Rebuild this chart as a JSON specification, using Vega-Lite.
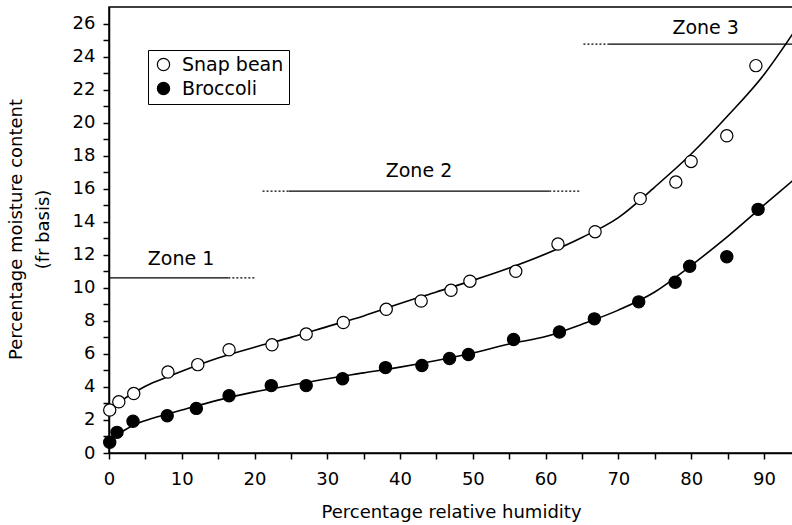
{
  "$schema": "https://vega.github.io/schema/vega-lite/v6.json",
  "width": 684,
  "height": 446,
  "autosize": {"type": "none"},
  "padding": {"left": 109, "top": 7, "right": 0, "bottom": 72},
  "background": "white",
  "config": {
    "view": {"stroke": "black", "strokeWidth": 1.5},
    "font": "DejaVu Sans"
  },
  "datasets": {
    "points": [
      {"series": "Snap bean", "rh": 0.1, "mc": 2.6},
      {"series": "Snap bean", "rh": 1.35, "mc": 3.1},
      {"series": "Snap bean", "rh": 3.4, "mc": 3.6},
      {"series": "Snap bean", "rh": 8.1, "mc": 4.9},
      {"series": "Snap bean", "rh": 12.2, "mc": 5.35},
      {"series": "Snap bean", "rh": 16.5, "mc": 6.25},
      {"series": "Snap bean", "rh": 22.4, "mc": 6.55},
      {"series": "Snap bean", "rh": 27.1, "mc": 7.2},
      {"series": "Snap bean", "rh": 32.2, "mc": 7.9},
      {"series": "Snap bean", "rh": 38.1, "mc": 8.7},
      {"series": "Snap bean", "rh": 42.9, "mc": 9.2},
      {"series": "Snap bean", "rh": 47.0, "mc": 9.85},
      {"series": "Snap bean", "rh": 49.6, "mc": 10.4},
      {"series": "Snap bean", "rh": 55.9, "mc": 11.0},
      {"series": "Snap bean", "rh": 61.7, "mc": 12.65},
      {"series": "Snap bean", "rh": 66.8, "mc": 13.4},
      {"series": "Snap bean", "rh": 73.0, "mc": 15.4},
      {"series": "Snap bean", "rh": 77.9, "mc": 16.4},
      {"series": "Snap bean", "rh": 80.0, "mc": 17.65},
      {"series": "Snap bean", "rh": 84.9, "mc": 19.2},
      {"series": "Snap bean", "rh": 88.9, "mc": 23.45},
      {"series": "Broccoli", "rh": 0.1, "mc": 0.65},
      {"series": "Broccoli", "rh": 1.1, "mc": 1.25},
      {"series": "Broccoli", "rh": 3.3, "mc": 1.92},
      {"series": "Broccoli", "rh": 8.0, "mc": 2.26},
      {"series": "Broccoli", "rh": 12.0, "mc": 2.7},
      {"series": "Broccoli", "rh": 16.5, "mc": 3.47},
      {"series": "Broccoli", "rh": 22.3, "mc": 4.08},
      {"series": "Broccoli", "rh": 27.1, "mc": 4.08},
      {"series": "Broccoli", "rh": 32.1, "mc": 4.5},
      {"series": "Broccoli", "rh": 38.0, "mc": 5.17},
      {"series": "Broccoli", "rh": 43.0, "mc": 5.3},
      {"series": "Broccoli", "rh": 46.8, "mc": 5.72},
      {"series": "Broccoli", "rh": 49.4, "mc": 5.96},
      {"series": "Broccoli", "rh": 55.6, "mc": 6.87},
      {"series": "Broccoli", "rh": 61.9, "mc": 7.33},
      {"series": "Broccoli", "rh": 66.7, "mc": 8.12},
      {"series": "Broccoli", "rh": 72.8, "mc": 9.15},
      {"series": "Broccoli", "rh": 77.8, "mc": 10.34},
      {"series": "Broccoli", "rh": 79.8, "mc": 11.31},
      {"series": "Broccoli", "rh": 84.9, "mc": 11.88},
      {"series": "Broccoli", "rh": 89.2, "mc": 14.75}
    ],
    "curves": [
      {"series": "Snap bean", "rh": 0, "mc": 2.45},
      {"series": "Snap bean", "rh": 1, "mc": 2.9},
      {"series": "Snap bean", "rh": 2, "mc": 3.25},
      {"series": "Snap bean", "rh": 4, "mc": 3.8},
      {"series": "Snap bean", "rh": 6, "mc": 4.25},
      {"series": "Snap bean", "rh": 8, "mc": 4.6},
      {"series": "Snap bean", "rh": 10, "mc": 4.95},
      {"series": "Snap bean", "rh": 15, "mc": 5.75},
      {"series": "Snap bean", "rh": 20, "mc": 6.4},
      {"series": "Snap bean", "rh": 25, "mc": 7.0},
      {"series": "Snap bean", "rh": 30, "mc": 7.65},
      {"series": "Snap bean", "rh": 35, "mc": 8.3},
      {"series": "Snap bean", "rh": 40, "mc": 9.05},
      {"series": "Snap bean", "rh": 45, "mc": 9.75},
      {"series": "Snap bean", "rh": 50, "mc": 10.45},
      {"series": "Snap bean", "rh": 55, "mc": 11.2},
      {"series": "Snap bean", "rh": 60, "mc": 12.05},
      {"series": "Snap bean", "rh": 65, "mc": 13.05},
      {"series": "Snap bean", "rh": 70, "mc": 14.25},
      {"series": "Snap bean", "rh": 75, "mc": 16.1},
      {"series": "Snap bean", "rh": 80, "mc": 18.1},
      {"series": "Snap bean", "rh": 85, "mc": 20.4},
      {"series": "Snap bean", "rh": 90, "mc": 22.9},
      {"series": "Snap bean", "rh": 94, "mc": 25.4},
      {"series": "Broccoli", "rh": 0, "mc": 0.55},
      {"series": "Broccoli", "rh": 1, "mc": 1.05},
      {"series": "Broccoli", "rh": 2, "mc": 1.35},
      {"series": "Broccoli", "rh": 4, "mc": 1.8},
      {"series": "Broccoli", "rh": 6, "mc": 2.1},
      {"series": "Broccoli", "rh": 8, "mc": 2.35},
      {"series": "Broccoli", "rh": 10, "mc": 2.6},
      {"series": "Broccoli", "rh": 15, "mc": 3.2},
      {"series": "Broccoli", "rh": 20, "mc": 3.7},
      {"series": "Broccoli", "rh": 25, "mc": 4.1},
      {"series": "Broccoli", "rh": 30, "mc": 4.5},
      {"series": "Broccoli", "rh": 35, "mc": 4.85},
      {"series": "Broccoli", "rh": 40, "mc": 5.2},
      {"series": "Broccoli", "rh": 45, "mc": 5.6},
      {"series": "Broccoli", "rh": 50, "mc": 6.05},
      {"series": "Broccoli", "rh": 55, "mc": 6.6},
      {"series": "Broccoli", "rh": 60, "mc": 7.05},
      {"series": "Broccoli", "rh": 65, "mc": 7.8},
      {"series": "Broccoli", "rh": 70, "mc": 8.65},
      {"series": "Broccoli", "rh": 75, "mc": 9.75},
      {"series": "Broccoli", "rh": 80, "mc": 11.35},
      {"series": "Broccoli", "rh": 85, "mc": 13.1},
      {"series": "Broccoli", "rh": 90, "mc": 15.0},
      {"series": "Broccoli", "rh": 94, "mc": 16.5}
    ],
    "zones": [
      {"zone": "Zone 1", "part": "solid", "rh": 0, "rh2": 16.4, "mc": 10.6},
      {"zone": "Zone 1", "part": "dotted", "rh": 16.4, "rh2": 20.1, "mc": 10.6},
      {"zone": "Zone 2", "part": "dotted", "rh": 21.1, "rh2": 24.7, "mc": 15.85},
      {"zone": "Zone 2", "part": "solid", "rh": 24.7, "rh2": 60.5, "mc": 15.85},
      {"zone": "Zone 2", "part": "dotted", "rh": 60.5, "rh2": 64.8, "mc": 15.85},
      {"zone": "Zone 3", "part": "dotted", "rh": 65.2, "rh2": 68.7, "mc": 24.75},
      {"zone": "Zone 3", "part": "solid", "rh": 68.7, "rh2": 94, "mc": 24.75}
    ],
    "labels": [
      {"label": "Zone 1", "rh": 9.9, "mc": 11.41},
      {"label": "Zone 2", "rh": 42.6, "mc": 16.7},
      {"label": "Zone 3", "rh": 82.0, "mc": 25.35}
    ]
  },
  "encoding": {
    "x": {
      "field": "rh", "type": "quantitative",
      "scale": {"domain": [0, 94], "nice": false, "zero": false},
      "axis": {"values": [0, 5, 10, 15, 20, 25, 30, 35, 40, 45, 50, 55, 60, 65, 70, 75, 80, 85, 90], "labelExpr": "datum.value % 10 == 0 ? datum.label : ''", "grid": false, "ticks": true, "tickSize": 6, "tickWidth": 1.5, "tickColor": "black", "domainColor": "black", "domainWidth": 1.5, "labelFlush": false, "labelOverlap": false, "labelFont": "DejaVu Sans", "labelFontSize": 18, "labelColor": "black", "labelPadding": 11, "title": "Percentage relative humidity", "titleFont": "DejaVu Sans", "titleFontSize": 18, "titleFontWeight": "normal", "titleColor": "black", "titlePadding": 15}
    },
    "y": {
      "field": "mc", "type": "quantitative",
      "scale": {"domain": [0, 27], "nice": false},
      "axis": {"values": [0,1,2,3,4,5,6,7,8,9,10,11,12,13,14,15,16,17,18,19,20,21,22,23,24,25,26], "labelExpr": "datum.value % 2 == 0 ? datum.label : ''", "grid": false, "ticks": true, "tickSize": 6, "tickWidth": 1.5, "tickColor": "black", "domainColor": "black", "domainWidth": 1.5, "labelFlush": false, "labelOverlap": false, "labelFont": "DejaVu Sans", "labelFontSize": 18, "labelColor": "black", "labelPadding": 8, "title": ["Percentage moisture content", "(fr basis)"], "titleFont": "DejaVu Sans", "titleFontSize": 18, "titleFontWeight": "normal", "titleColor": "black", "titleLineHeight": 27, "titleAngle": -90, "titleBaseline": "middle", "titleAlign": "center", "titleX": -93, "titleY": 222}
    }
  },
  "layer": [
    {
      "data": {"name": "zones"},
      "mark": {"type": "rule", "color": "black", "strokeWidth": 1.2},
      "encoding": {
        "x2": {"field": "rh2"},
        "strokeDash": {"field": "part", "type": "nominal", "scale": {"domain": ["solid", "dotted"], "range": [[1, 0], [2, 2]]}, "legend": null}
      }
    },
    {
      "data": {"name": "labels"},
      "mark": {"type": "text", "fontSize": 19, "font": "DejaVu Sans", "color": "black", "align": "center", "baseline": "alphabetic"},
      "encoding": {"text": {"field": "label"}}
    },
    {
      "data": {"name": "curves"},
      "mark": {"type": "line", "color": "black", "strokeWidth": 1.6, "interpolate": "monotone", "clip": true},
      "encoding": {"detail": {"field": "series"}}
    },
    {
      "data": {"name": "points"},
      "mark": {"type": "point", "shape": "circle", "filled": true, "size": 150, "stroke": "black", "strokeWidth": 1.2, "opacity": 1},
      "encoding": {
        "fill": {
          "field": "series", "type": "nominal",
          "scale": {"domain": ["Snap bean", "Broccoli"], "range": ["white", "black"]},
          "legend": {"title": null, "orient": "none", "legendX": 39, "legendY": 43, "direction": "vertical", "strokeColor": "black", "fillColor": "white", "padding": 5, "symbolType": "circle", "symbolSize": 150, "symbolStrokeColor": "black", "symbolStrokeWidth": 1.2, "symbolOffset": 1, "labelFontSize": 19, "labelFont": "DejaVu Sans", "labelColor": "black", "labelOffset": 9, "rowPadding": 4, "labelLimit": 300}
        }
      }
    }
  ]
}
